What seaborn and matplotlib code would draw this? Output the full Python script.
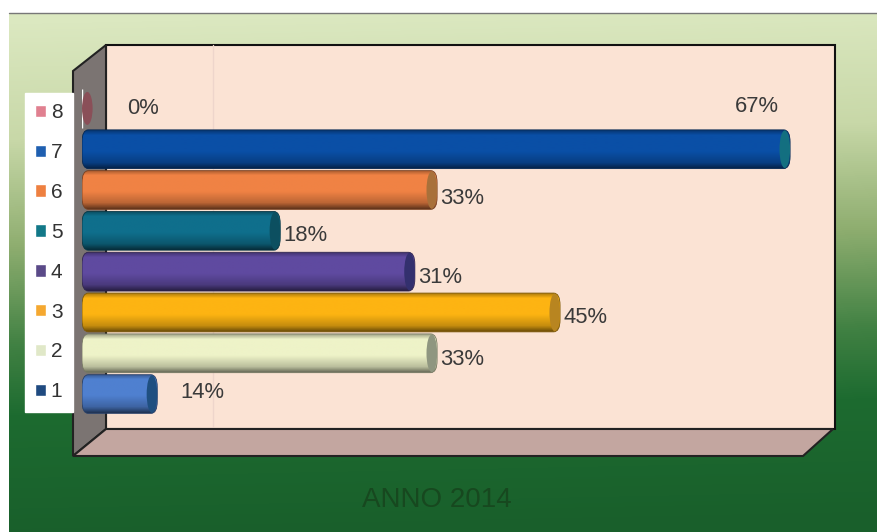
import numpy as np
import pandas as pd
import matplotlib
matplotlib.use("Agg")
import matplotlib.pyplot as plt
import matplotlib.colors as mcolors
from matplotlib.patches import Polygon, Ellipse, FancyBboxPatch
import seaborn as sns

categorie = ["8", "7", "6", "5", "4", "3", "2", "1"]
lunghezze = [0, 66.8, 33.5, 18.7, 31.4, 45.1, 33.5, 7.1]
etichette = ["0%", "67%", "33%", "18%", "31%", "45%", "33%", "14%"]
colori = ["#d9808c", "#0a4fa6", "#f08244", "#0f6f8c", "#5f4aa0", "#fdb412", "#eef3c8", "#4f80d0"]
colori_fine = ["#8a4f58", "#136f80", "#a8703a", "#0c4f60", "#33306e", "#b88520", "#8f9680", "#1f4f80"]
colori_legenda = ["#e08090", "#1f5fb0", "#ee8040", "#127888", "#5a4a88", "#f5a830", "#e0e8c8", "#1f4a80"]

W, H = 877, 532
sns.set_theme(style="white")
plt.rcParams["font.family"] = ["Liberation Sans", "DejaVu Sans"]

df = pd.DataFrame({"categoria": categorie, "valore": lunghezze})

fig = plt.figure(figsize=(W / 100, H / 100), dpi=100, facecolor="white")

# sfondo con gradiente e "scatola" 3D, in pixel
bg = fig.add_axes([0, 0, 1, 1])

yy, xx = np.mgrid[13:H, 9:W]
t = np.clip((yy - 13 + 0.02 * (xx - 440)) / 519, 0, 1)
cmap = mcolors.LinearSegmentedColormap.from_list(
    "sfondo",
    [(0, "#dbe8c0"), (0.225, "#c8d8a8"), (0.43, "#8fae70"), (0.628, "#3f8042"), (0.76, "#1d6b30"), (1, "#195f2b")],
)
bg.imshow(t, extent=(9, W, H, 13), cmap=cmap, vmin=0, vmax=1, aspect="auto", zorder=0)
bg.plot([9, W], [13, 13], color="#777777", lw=1, zorder=1)
bg.set_xlim(0, W)
bg.set_ylim(H, 0)
bg.axis("off")

bg.add_patch(Polygon([(106, 45), (835, 45), (835, 429), (106, 429)], fc="#fbe3d4", ec="#111111", lw=1.5, zorder=2))
bg.add_patch(Polygon([(73, 71), (106, 45), (106, 429), (73, 456)], fc="#7b7472", ec="#222222", lw=1.5, zorder=3))
bg.add_patch(Polygon([(73, 456), (106, 429), (833, 429), (803, 456)], fc="#c3a6a0", ec="#222222", lw=1.5, zorder=3))
bg.plot([213, 213], [45, 429], color="#eed5cb", lw=1, zorder=2.5)

# barre
ax = fig.add_axes([82 / W, 1 - 414.5 / H, 795 / W, 326.5 / H])
ax.patch.set_alpha(0)
sns.barplot(data=df, x="valore", y="categoria", hue="categoria", order=categorie, hue_order=categorie,
            palette=colori, dodge=False, width=0.95, ax=ax, legend=True)
ax.set_xlabel("")
ax.set_ylabel("")
ax.set_xticks([])
ax.set_yticks([])
sns.despine(ax=ax, left=True, bottom=True)

gradiente = np.linspace(0, 1, 40).reshape(-1, 1)
for cont, col, fine in zip(ax.containers, colori, colori_fine):
    for bar in cont:
        x0, y0, w, h = bar.get_x(), bar.get_y(), bar.get_width(), bar.get_height()
        rgb = np.array(mcolors.to_rgb(col))
        cm_bar = mcolors.LinearSegmentedColormap.from_list(
            "b", [(0, rgb * 0.7), (0.12, rgb), (0.55, rgb), (0.85, rgb * 0.78), (1, rgb * 0.42)])
        if w > 0:
            bar.set_alpha(0)
            img = ax.imshow(gradiente, extent=(x0, x0 + w, y0 + h, y0), cmap=cm_bar, vmin=0, vmax=1,
                            aspect="auto", zorder=3, interpolation="bilinear")
            forma = FancyBboxPatch((x0, y0), w, h, boxstyle="round,pad=0,rounding_size=0.6",
                                   mutation_aspect=0.5, transform=ax.transData, fc="none",
                                   ec=rgb * 0.5, lw=0.6, zorder=3.5)
            ax.add_patch(forma)
            img.set_clip_path(forma)
        cx = x0 + w - 0.5 if w > 0 else x0 + 0.5
        ax.add_patch(Ellipse((cx, y0 + h / 2), 1.0, h * 0.97 if w > 0 else h * 0.85, fc=fine, ec="none", zorder=4))

ax.set_xlim(0, 75)
ax.set_ylim(7.5, -0.5)

# etichette
scarti = [(45, 0), (-55, 43), (3, -8), (3, -5), (3, -6), (3, -5), (3, -6), (23, 2)]
for cat, val, testo, sc in zip(categorie, lunghezze, etichette, scarti):
    ax.annotate(testo, xy=(val, categorie.index(cat)), xytext=(sc[0] / 1.389, sc[1] / 1.389),
                textcoords="offset points", ha="left", va="center", fontsize=15.8, color="#3a3a3a",
                zorder=6, annotation_clip=False)

handles, labels = ax.get_legend_handles_labels()
leg = ax.legend(handles, labels, loc="upper left", bbox_to_anchor=(25 / W, 1 - 93 / H), bbox_transform=fig.transFigure,
                frameon=True, fancybox=False, framealpha=1, facecolor="white", edgecolor="white",
                fontsize=15, labelcolor="#333333", handlelength=0.5, handleheight=0.55, handletextpad=0.24,
                labelspacing=1.0, borderpad=0.5, borderaxespad=0)
for h, c in zip(leg.legend_handles, colori_legenda):
    h.set_alpha(1)
    h.set_facecolor(c)
leg.set_zorder(10)

fig.text(437 / W, 1 - 500 / H, "ANNO 2014", ha="center", va="center", fontsize=20, color="#17481f")

fig.savefig("out.png", dpi=100)
